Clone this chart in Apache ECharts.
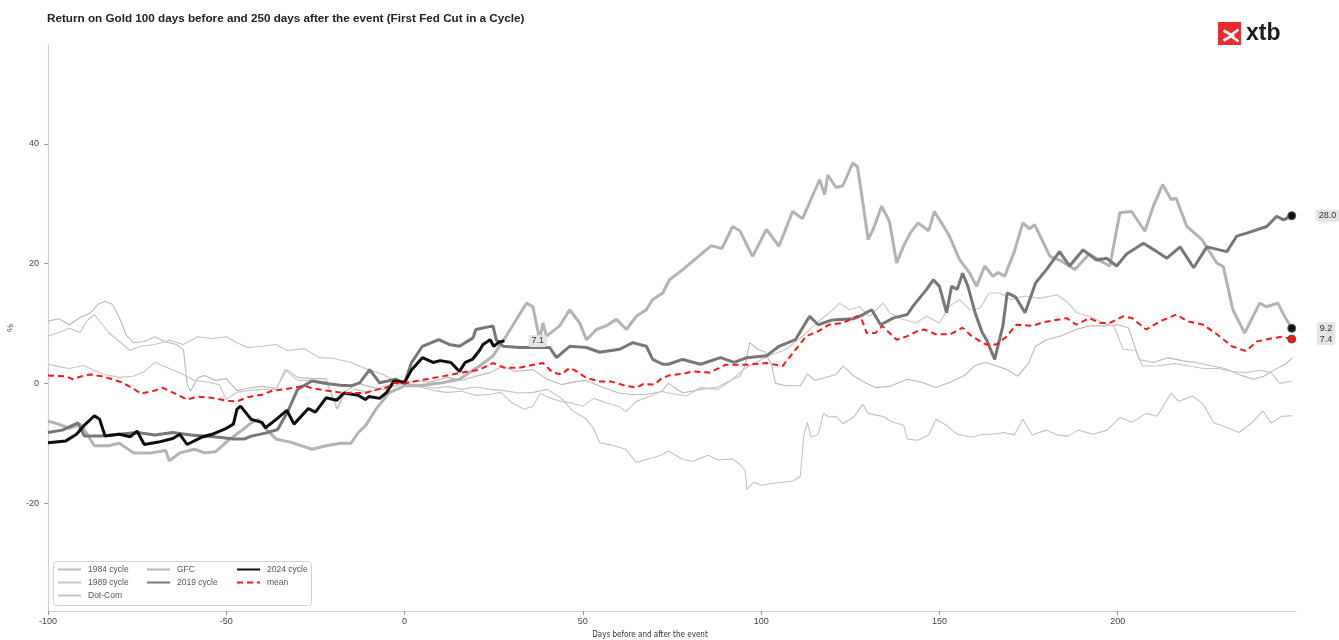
<!DOCTYPE html>
<html>
<head>
<meta charset="utf-8">
<title>Return on Gold around the first Fed cut</title>
<script src="https://cdn.jsdelivr.net/npm/echarts@6/dist/echarts.min.js"></script>
<style>
  html, body { margin: 0; padding: 0; background: #fff; }
  #chart { width: 1339px; height: 640px; }
</style>
</head>
<body>
<div id="chart"></div>
<script>
// [day, % return] pairs
const cycle1984 = [[-100,10.4],[-97,10.8],[-94,9.8],[-91,11],[-88,11.8],[-86,13.2],[-84,13.7],[-82,13.2],[-80,11],[-78,8],[-76,6.8],[-73,7],[-70,7.8],[-67,6.9],[-64,6.5],[-62,5.6],[-61,0],[-60,-1.3],[-58,1],[-56,1.3],[-53,0.5],[-50,0.8],[-47,-1.2],[-44,-0.8],[-40,-0.5],[-36,-0.8],[-33,2.3],[-30,1],[-26,0.8],[-22,0.8],[-19,-4.3],[-17,-1.5],[-13,0],[-10,-0.5],[-6,-1],[-3,-0.5],[0,0],[3,0.5],[7,0.2],[12,1],[16,0.5],[20,1.2],[24,1.8],[27.6,2.9],[31,2],[36,2.3],[40,0.7],[44,-0.2],[48,0.3],[51,0.5],[55,-0.5],[60,-1.6],[64,-1.9],[68,-1.8],[72,-1.4],[74,0],[78,-1.6],[83,-1],[88,-0.6],[92,0.7],[94,1.2],[95.5,3],[96.8,6.8],[99,5.7],[101,5.3],[103,3],[104,0],[107,-0.4],[111,-0.4],[113,1.6],[115,0.5],[118,1],[121,1.5],[123,2.9],[126,1.2],[129,0.2],[132,-0.7],[136,-0.5],[141,0.7],[145,0.2],[149,-0.7],[153,0.2],[157,1.3],[160,3],[163,3.5],[166,2.9],[169,2.3],[172,1.2],[175,3.4],[177,6.2],[180,7.3],[184,7.9],[188.4,9],[192,9.6],[196,9.6],[200,9.8],[203,9.3],[206,4],[210,3.5],[214,4.3],[218,3.8],[222,3.5],[226,3],[230,2.5],[234,1.5],[238,0.7],[241,1.2],[244,2.3],[247,3.2],[249,4.3]];

const cycle1989 = [[-100,3.2],[-97,2.8],[-94,2.5],[-90,3],[-87,2.2],[-84,1.5],[-80,1],[-76,1.2],[-73,2],[-70,3.5],[-66,2.5],[-62,1.5],[-59,0.5],[-55,0.2],[-52,-0.2],[-50,-2.7],[-47,-1.5],[-44,-1.2],[-40,-1],[-36,-1],[-33.6,2.3],[-30,0.5],[-26,0.5],[-22,0.3],[-18.8,-4.3],[-17,-2],[-14,-1],[-10,-1.5],[-6,-0.5],[-3,-0.3],[0,0],[4,-0.5],[8,-1.2],[12,-1.5],[16,-1.3],[20,-2],[24,-1.8],[27,-1.5],[30,-3.2],[33.5,-4.3],[36,-3.8],[38,-1.7],[41,-2.5],[44,-3],[47,-3.3],[50,-3.8],[53,-2.5],[57,-3.3],[60,-3.8],[62,-4.7],[65,-3],[69,-2.1],[72,-1.3],[74,-1.6],[79,-2.1],[83,-0.7],[88,-1],[92,0.7],[95,2.3],[98,3.4],[102.4,4.6],[107,5.7],[111.7,7.9],[115.5,10.1],[119.2,11.8],[122,13.4],[124.8,12.3],[127.6,12.8],[130.4,11.2],[134.2,13.4],[136,11.8],[139.8,10.7],[143.5,10.1],[146.4,11.2],[150,10.1],[152.8,12.9],[155.7,14],[158.5,12.3],[161.3,12.5],[164,15.1],[167,15.1],[170,14],[174,14.6],[178,14.2],[183,14.8],[186,13.5],[188.5,11.8],[192,11.2],[196,10.1],[199,9.5],[201.5,5.7],[205,5.5],[207,2.9],[211,2.9],[216,3.3],[220,2.9],[224,2.5],[228,2.5],[232,2],[236,1.8],[240,2.2],[243,1.8],[245.5,0],[249,0.4]];

const dotCom = [[-100,7.9],[-97,8.5],[-94,9.2],[-91,8.5],[-89,10.5],[-87,11.5],[-85,10],[-83,8.5],[-80,7],[-77,5.5],[-74,6.2],[-70,6.5],[-66,7.2],[-62,6.5],[-58,7.8],[-54,7.5],[-50,7.8],[-47,6.8],[-44,6],[-40,6.2],[-36,6.5],[-33,5.5],[-28,5.8],[-24,4.3],[-20,4.2],[-15,3.5],[-11,2.5],[-6,1.5],[-3,0.5],[0,0],[4,-0.3],[8,-0.8],[12,-0.5],[16,-1],[20,-0.6],[24,-1],[28,-1.2],[32,-1.6],[36,-1.5],[40,-1],[44,-2.5],[47,-4.5],[51,-6],[53,-7.5],[54.7,-9.9],[58,-10.3],[62,-11],[65,-13.2],[69,-12.5],[72,-12],[74,-11.3],[78,-12.7],[81,-13],[85,-12],[88,-12.8],[92,-12.6],[94,-13.5],[95.5,-14.5],[96,-17.7],[98,-16.5],[100,-17],[103,-16.7],[106,-16.5],[109,-16.3],[111,-15.5],[112,-8.5],[113,-6.5],[114,-9],[116,-8.5],[117.5,-5],[119,-5.6],[121,-5.5],[123,-6.7],[126,-5.6],[128.5,-3.5],[130,-5],[134,-5.5],[137,-6.5],[140,-7],[141,-9.3],[144,-9.5],[147,-8.6],[149,-6],[152,-7],[155,-8.5],[159,-9],[162,-8.5],[165,-8.5],[168,-8.2],[171,-8.6],[173.4,-6],[176,-8.6],[180,-7.8],[183,-8.6],[186,-8.8],[189,-7.8],[193,-8.5],[197,-7.8],[200.6,-5.7],[204,-6.5],[208,-5],[211,-5.5],[215,-1.6],[217,-3],[221,-2.1],[224,-3.5],[227,-6.6],[230,-7.2],[234,-8.2],[238,-6.4],[240.7,-4.6],[243,-6.6],[246,-5.5],[249,-5.4]];

const gfc = [[-100,-6.3],[-97,-6.8],[-94,-7.5],[-91,-6.8],[-89,-8.5],[-87,-10.4],[-83,-10.4],[-80,-10],[-76,-11.6],[-71,-11.6],[-67,-11.2],[-66,-12.9],[-63,-11.6],[-59,-11],[-56,-11.6],[-53,-11.4],[-49,-9.3],[-46,-8],[-43,-6.6],[-41,-6],[-39,-7.5],[-36,-9.3],[-32,-9.8],[-26,-11],[-22,-10.4],[-18,-10],[-15,-10],[-13,-8.2],[-11,-7.1],[-8,-4.3],[-4.4,-1.6],[0,-0.4],[4,-0.4],[10.5,0.1],[15.4,0.7],[21,2.9],[24.8,4.6],[28.5,7.9],[31.4,10.7],[34.2,13.4],[36,12.8],[37.9,7.3],[38.8,10.1],[39.8,7.9],[43.5,9.6],[46.3,12.3],[49.1,10.1],[51,7.3],[53.8,9],[56.5,9.6],[59.4,10.7],[62.2,9],[65,11.2],[67.8,12.3],[69.6,14],[72.4,15.1],[74.3,17.3],[78,19],[82,21],[86,23],[89,22.5],[92,26.2],[94,25.5],[97.6,21.2],[101.5,25.7],[105,22.9],[108.8,28.7],[111.6,27.5],[116.4,34],[117.8,31.5],[118.7,34.8],[121,32.7],[122.9,33],[125.7,36.8],[127,36.2],[128.4,30.7],[130,24],[131.4,25.7],[133.8,29.6],[136,27],[138,20.1],[140,23],[141.8,25.1],[144,26.8],[147,25.5],[148.6,28.7],[152.8,24.6],[155.6,20.7],[158.5,18.4],[160.4,16.2],[162.7,19.6],[165,17.9],[166.5,18.5],[168.3,17.9],[171,22],[173.4,26.8],[175.3,25.8],[176.7,26.5],[181,21.2],[184,20.5],[188,19],[192,21.6],[195,20.5],[197.8,19.6],[200.6,28.5],[203.9,28.7],[207.6,25.4],[210,29.6],[212.6,33.2],[215,30.7],[216.4,30.9],[219.4,26.2],[223.6,24],[227.8,20.1],[229.6,19.5],[232.3,12.3],[235.6,8.4],[239.8,13.4],[241.7,12.8],[244.9,13.4],[246.8,11.2],[248.8,9.2]];

const cycle2019 = [[-100,-8.2],[-96,-7.8],[-91.6,-6.6],[-89.8,-8.8],[-85,-8.8],[-80,-8.5],[-75,-8.2],[-70,-8.6],[-65,-8.2],[-60,-8.6],[-56,-8.8],[-52,-9],[-48,-9.3],[-45,-9.3],[-43,-8.8],[-39,-8.3],[-35.6,-7.7],[-33,-5],[-30,-1],[-26,0.4],[-22,0],[-18,-0.3],[-15,-0.4],[-12.6,0.1],[-9.8,2.3],[-7,0.1],[-2.5,0.7],[0,0],[1.9,3.4],[5,6.2],[9.6,7.3],[12.5,6.5],[15.4,6.2],[19.2,7.6],[20,9],[24.8,9.6],[25.7,7.3],[27.6,6.2],[32.3,6],[36,6],[40.7,6],[42.6,4.3],[46.3,6.2],[51,6],[54.7,5.2],[60.3,5.7],[64,6.8],[67.8,6.2],[69.6,4],[72.4,3.2],[74,3.2],[78,4],[83,3.2],[88.6,4.3],[92.4,3.5],[96,4.3],[101.5,4.6],[105,6.2],[109.6,7.3],[113.6,11.2],[116,9.8],[120,10.6],[126,10.8],[128.6,11.5],[131,12.3],[133.5,9.8],[137,10.9],[141,11.5],[142.6,12.9],[146.4,15.7],[148.3,17.3],[150,16.2],[152,11.8],[153.4,16.2],[155,15.7],[156.5,18.4],[158,16.2],[160,11.8],[162,8.5],[163.2,7.3],[165.5,4],[167.8,9.6],[169,15.1],[171.4,14.4],[174,11.8],[177,16.8],[180,19],[183.7,22],[186.5,19.6],[190.3,22.3],[194,20.6],[196.9,20.9],[199.7,19.6],[202.5,21.6],[207.2,23.4],[211,22],[213.8,20.9],[217.5,22.8],[221.3,19.3],[225,22.8],[230.6,22],[233.4,24.6],[236.2,25.1],[241.8,26.2],[244.6,27.9],[246.5,27.3],[248.8,28]];

const cycle2024 = [[-100,-9.9],[-95,-9.6],[-92,-8.5],[-90,-7.1],[-87,-5.4],[-85.5,-6],[-84,-8.8],[-80,-8.5],[-77,-8.9],[-75,-8],[-73,-10.2],[-69,-9.8],[-65,-9.2],[-63,-8.5],[-61,-10.2],[-57,-9],[-54,-8.5],[-50,-7.5],[-48,-6.8],[-47,-4.3],[-46,-3.8],[-43,-6],[-40,-6.5],[-39,-7.4],[-36,-6],[-33,-4.5],[-31,-6.8],[-27,-4.2],[-25,-4.8],[-22,-2.4],[-19,-2.8],[-17,-1.6],[-13,-2],[-11,-2.7],[-10,-2.2],[-7,-2.5],[-5,-1.5],[-3,0.4],[0,0.2],[2,2.3],[5,4.3],[8,3.5],[10,3.8],[13,3.5],[15.4,2],[17,3.5],[19,4],[21,5.5],[22,6.5],[24,7.3],[25,6.2],[26.5,6.9],[28,7.1]];

const meanLine = [[-100,1.3],[-95,1.2],[-93,0.7],[-90,1.3],[-88,1.5],[-85,1.2],[-82,0.7],[-79,0.1],[-76,-0.9],[-74,-1.7],[-70,-1.2],[-68,-0.7],[-64,-1.8],[-61,-2.7],[-58,-2.2],[-54,-2.4],[-50,-2.9],[-47,-3],[-44,-2.3],[-40,-1.9],[-37,-1.2],[-34,-1],[-28,-0.4],[-26,-0.8],[-22,-1.2],[-17,-1.6],[-11,-1.6],[-9,-1.2],[-5,-0.7],[-3,0.1],[0,0],[6,0.7],[10,1.1],[15,1.7],[21,2.3],[24.8,3.4],[28,2.6],[32,2.6],[36,3.1],[38.8,3.4],[41.6,1.8],[44,1.5],[46.3,2.6],[48,2.1],[51,0.9],[55,0.3],[58,0.3],[62,-0.4],[65,-0.7],[67,-0.1],[70,-0.2],[72,0.8],[74,1.3],[78,1.6],[81,2],[85.6,1.8],[90,3.1],[96,3.1],[101.5,3.4],[106,2.9],[109.6,5.6],[112.7,7.9],[116,8.7],[119,9.8],[123,10.1],[126.8,11.2],[128,11],[129.6,8.4],[132,8.4],[134,9.6],[136,8.4],[138,7.3],[141,7.9],[144,8.8],[145.7,9],[149,8.2],[153,8.2],[156.5,9.3],[159,7.9],[163,6.5],[166,6.5],[168.6,7.7],[171.6,9.8],[176,9.6],[179,10.2],[182,10.5],[185.7,10.9],[188.4,9.8],[192,10.9],[195,10.1],[197.8,10.1],[201.5,11.2],[204,10.9],[208,9],[212,10.4],[216.5,11.5],[219.4,10.4],[224,9.8],[227.8,8.2],[232,6.2],[236,5.4],[239,7],[243,7.5],[246,7.8],[248.8,7.4]];

const xTicks = [-100, -50, 0, 50, 100, 150, 200];
const yTicks = [-20, 0, 20, 40];

const font = '"Liberation Sans", Arial, sans-serif';
const narrow = '"Liberation Sans Narrow", "DejaVu Sans Condensed", "Liberation Sans", sans-serif';

// put a dot on the last point only
function withEndDot(data, color, size) {
  return data.map((p, i) => i === data.length - 1
    ? { value: p, symbol: 'circle', symbolSize: size, itemStyle: { color: color, borderColor: '#555', borderWidth: 1 } }
    : p);
}

function endLabel(distance) {
  return {
    show: true,
    distance: distance,
    formatter: p => p.value[1].toFixed(1),
    fontFamily: font,
    fontSize: 9,
    color: '#333',
    backgroundColor: '#e4e4e4',
    padding: [2, 3, 1, 3],
    borderRadius: 2
  };
}

function thin(name, data, color) {
  return {
    name: name, type: 'line', data: data, symbol: 'none', z: 1,
    lineStyle: { color: color, width: 1.1 }, itemStyle: { color: color }
  };
}

const chart = echarts.init(document.getElementById('chart'), null, { renderer: 'canvas' });

const legendBase = {
  orient: 'vertical', top: 565, padding: 0, itemWidth: 23, itemHeight: 10, itemGap: 4,
  itemStyle: { opacity: 0 },
  textStyle: { fontFamily: font, fontSize: 8.5, color: '#555', padding: [0, 0, 0, 2] }
};

chart.setOption({
  animation: false,
  backgroundColor: '#fff',
  title: {
    text: 'Return on Gold 100 days before and 250 days after the event (First Fed Cut in a Cycle)',
    left: 47, top: 13, padding: 0,
    textStyle: { fontFamily: font, fontSize: 11.7, fontWeight: 'bold', color: '#222' }
  },
  grid: { left: 48, right: 43, top: 45, bottom: 29, outerBoundsMode: 'none' },
  legend: [
    Object.assign({}, legendBase, { left: 57, data: ['1984 cycle', '1989 cycle', 'Dot-Com'] }),
    Object.assign({}, legendBase, { left: 146, data: ['GFC', '2019 cycle'] }),
    Object.assign({}, legendBase, { left: 236, data: ['2024 cycle', 'mean'] })
  ],
  xAxis: {
    type: 'value', min: -100, max: 250,
    name: 'Days before and after the event',
    nameLocation: 'middle', nameGap: 20,
    nameTextStyle: { fontFamily: narrow, fontSize: 8, color: '#333', padding: [0, 44, 0, 0] },
    axisLine: { show: true, onZero: false, lineStyle: { color: '#cfcfcf', width: 1.2 } },
    axisTick: { show: true, length: 4, lineStyle: { color: '#999' }, customValues: xTicks },
    axisLabel: { fontFamily: font, fontSize: 9, color: '#444', margin: 6, customValues: xTicks },
    splitLine: { show: false }
  },
  yAxis: {
    type: 'value', min: -38, max: 56.5,
    name: '%', nameLocation: 'middle', nameGap: 31, nameRotate: 90,
    nameTextStyle: { fontFamily: font, fontSize: 9, color: '#444' },
    axisLine: { show: true, onZero: false, lineStyle: { color: '#cfcfcf', width: 1.2 } },
    axisTick: { show: true, length: 4, lineStyle: { color: '#999' }, customValues: yTicks },
    axisLabel: { fontFamily: font, fontSize: 9, color: '#444', margin: 9, customValues: yTicks },
    splitLine: { show: false }
  },
  graphic: [
    // legend frame
    { type: 'rect', left: 53, top: 561, z: 0,
      shape: { width: 258, height: 44, r: 3 },
      style: { fill: '#fff', stroke: '#d2d2d2', lineWidth: 1 } },
    // xtb logo
    { type: 'rect', left: 1218, top: 22, shape: { width: 23, height: 23 }, style: { fill: '#ec2b2e' } },
    { type: 'polyline', left: 1221, top: 28,
      shape: { points: [[0, 0], [9, 5], [0, 10]] },
      style: { stroke: '#fff', lineWidth: 2.6, fill: null } },
    { type: 'polyline', left: 1228, top: 27,
      shape: { points: [[10, 0], [2, 6], [10, 12]] },
      style: { stroke: '#fff', lineWidth: 2.6, fill: null } },
    { type: 'text', left: 1246, top: 22,
      style: { text: 'xtb', font: 'bold 23px "Liberation Sans", Arial, sans-serif', fill: '#1b1b1b' } }
  ],
  series: [
    thin('1984 cycle', cycle1984, '#b9b9b9'),
    thin('1989 cycle', cycle1989, '#c6c6c6'),
    thin('Dot-Com', dotCom, '#c2c2c2'),
    {
      name: 'GFC', type: 'line', symbol: 'none', showSymbol: true, z: 2,
      data: withEndDot(gfc, '#111', 8),
      lineStyle: { color: '#b3b3b3', width: 3 }, itemStyle: { color: '#b3b3b3' },
      endLabel: endLabel(25)
    },
    {
      name: '2019 cycle', type: 'line', symbol: 'none', showSymbol: true, z: 3,
      data: withEndDot(cycle2019, '#111', 8),
      lineStyle: { color: '#777', width: 3 }, itemStyle: { color: '#777' },
      endLabel: endLabel(24)
    },
    {
      name: '2024 cycle', type: 'line', symbol: 'none', z: 4,
      data: cycle2024,
      lineStyle: { color: '#0d0d0d', width: 3 }, itemStyle: { color: '#0d0d0d' },
      endLabel: endLabel(24)
    },
    {
      name: 'mean', type: 'line', symbol: 'none', showSymbol: true, z: 5,
      data: withEndDot(meanLine, '#ff1414', 8),
      lineStyle: { color: '#ff1414', width: 2, type: [6, 4] }, itemStyle: { color: '#ff1414' },
      endLabel: endLabel(25)
    }
  ]
});
</script>
</body>
</html>
